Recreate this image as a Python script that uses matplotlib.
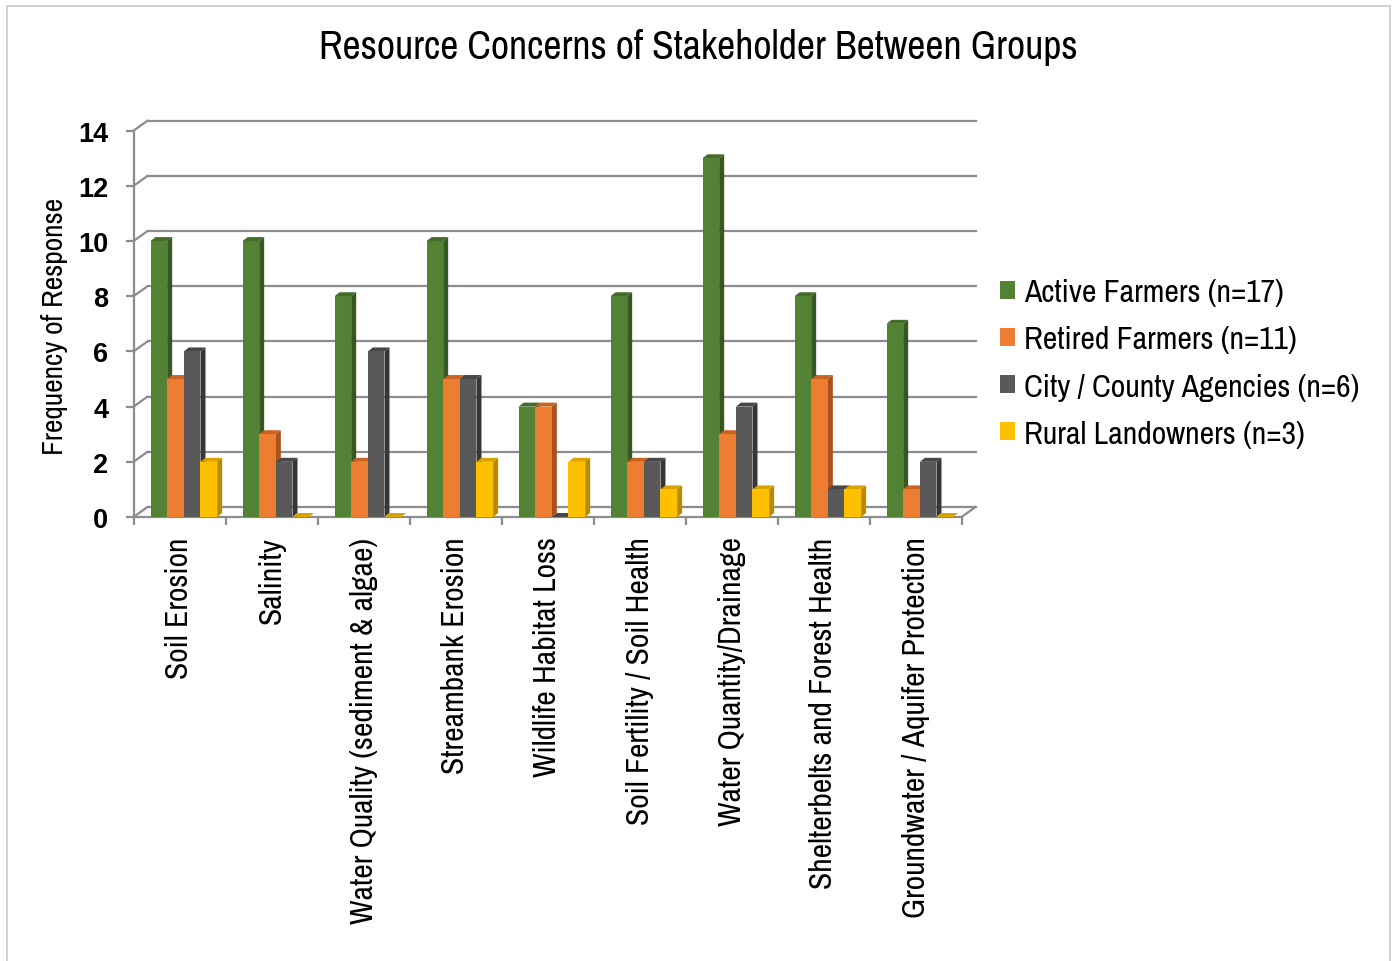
import matplotlib
matplotlib.use("Agg")
import matplotlib.pyplot as plt
from matplotlib.patches import Polygon, Rectangle
from matplotlib.lines import Line2D

NARROW = ["Archivo Narrow", "Pragati Narrow", "DejaVu Sans"]
plt.rcParams["font.family"] = NARROW

categories = [
    "Soil Erosion",
    "Salinity",
    "Water Quality (sediment & algae)",
    "Streambank Erosion",
    "Wildlife Habitat Loss",
    "Soil Fertility / Soil Health",
    "Water Quantity/Drainage",
    "Shelterbelts and Forest Health",
    "Groundwater / Aquifer Protection",
]
series_names = [
    "Active Farmers (n=17)",
    "Retired Farmers (n=11)",
    "City / County Agencies (n=6)",
    "Rural Landowners (n=3)",
]
active_farmers = [10, 10, 8, 10, 4, 8, 13, 8, 7]
retired_farmers = [5, 3, 2, 5, 4, 2, 3, 5, 1]
city_county = [6, 2, 6, 5, 0, 2, 4, 1, 2]
rural_landowners = [2, 0, 0, 2, 2, 1, 1, 1, 0]
series_values = [active_farmers, retired_farmers, city_county, rural_landowners]
y_ticks = [0, 2, 4, 6, 8, 10, 12, 14]

front_colors = ["#548235", "#ED7D31", "#595959", "#FFC000"]
side_colors = ["#385723", "#A9521B", "#363636", "#B88A00"]
top_colors = ["#456B2B", "#C86421", "#474747", "#D9A300"]
grid_color = "#8C8C8C"

W, H, DPI = 1396, 962, 100
fig = plt.figure(figsize=(W / DPI, H / DPI), dpi=DPI)

# outer chart frame
fig.patches.append(Rectangle((7 / W, -0.02), (1390 - 7) / W, (H - 7) / H + 0.02,
                             transform=fig.transFigure, fill=False,
                             edgecolor="#C8C8C8", linewidth=1.2))

# front plane of the plot area in pixels
x0, x1 = 133.5, 961.5
y0, y1 = 518.0, 131.7
ax = fig.add_axes([x0 / W, 1 - y0 / H, (x1 - x0) / W, (y0 - y1) / H])
ax.set_xlim(0, len(categories))
ax.set_ylim(0, 14)
ax.patch.set_visible(False)

px_x = (x1 - x0) / len(categories)
px_y = (y0 - y1) / 14
# back wall offset and bar depth (pixels -> data units)
wall_dx, wall_dy = 14 / px_x, 10 / px_y
bar_dx, bar_dy = 5 / px_x, 4 / px_y

lw = 1.6
# back wall gridlines with diagonal connectors
for v in y_ticks:
    ax.add_line(Line2D([wall_dx, len(categories) + wall_dx], [v + wall_dy, v + wall_dy],
                       color=grid_color, lw=lw, clip_on=False, zorder=1))
    ax.add_line(Line2D([0, wall_dx], [v, v + wall_dy],
                       color=grid_color, lw=lw, clip_on=False, zorder=1))
# floor right edge
ax.add_line(Line2D([len(categories), len(categories) + wall_dx], [0, wall_dy],
                   color=grid_color, lw=lw, clip_on=False, zorder=1))

# 3D-looking bars
bar_w = 0.181
start = 0.185
for k, vals in enumerate(series_values):
    lefts = [i + start + k * bar_w for i in range(len(categories))]
    z = 3 + k * 0.1
    ax.bar(lefts, vals, width=bar_w, align="edge", color=front_colors[k],
           linewidth=0, zorder=z + 0.05, label=series_names[k])
    for l, h in zip(lefts, vals):
        r = l + bar_w
        side = Polygon([(r, 0), (r + bar_dx, bar_dy), (r + bar_dx, h + bar_dy), (r, h)],
                       closed=True, facecolor=side_colors[k], edgecolor="none", zorder=z)
        top = Polygon([(l, h), (r, h), (r + bar_dx, h + bar_dy), (l + bar_dx, h + bar_dy)],
                      closed=True, facecolor=top_colors[k], edgecolor="none", zorder=z + 0.02)
        ax.add_patch(side)
        ax.add_patch(top)

# axes styling
for s in ["top", "right"]:
    ax.spines[s].set_visible(False)
for s in ["left", "bottom"]:
    ax.spines[s].set_color(grid_color)
    ax.spines[s].set_linewidth(lw)
    ax.spines[s].set_zorder(2)

ax.set_yticks(y_ticks)
ax.set_yticklabels([str(t) for t in y_ticks], fontsize=19.5, fontweight="bold",
                   family=["Liberation Sans", "DejaVu Sans"])
ax.tick_params(axis="y", length=6, width=lw, color=grid_color, pad=12)

ax.set_xticks([i + 0.5 for i in range(len(categories))])
ax.set_xticklabels(categories, rotation=90, fontsize=22.8)
ax.set_xticks(range(len(categories) + 1), minor=True)
ax.tick_params(axis="x", which="major", length=0, pad=14)
ax.tick_params(axis="x", which="minor", length=6, width=lw, color=grid_color)

fig.text(55 / W, 1 - 326 / H, "Frequency of Response", rotation=90,
         ha="center", va="center", fontsize=21.3)
fig.text(0.5, 1 - 48 / H, "Resource Concerns of Stakeholder Between Groups",
         ha="center", va="center", fontsize=28.6)

fig.legend(loc="center left", bbox_to_anchor=(1000 / W, 1 - 364 / H),
           frameon=False, fontsize=22.9, handlelength=0.48, handleheight=0.48,
           handletextpad=0.28, labelspacing=0.6, borderpad=0, borderaxespad=0)

fig.savefig("out.png", dpi=DPI)
